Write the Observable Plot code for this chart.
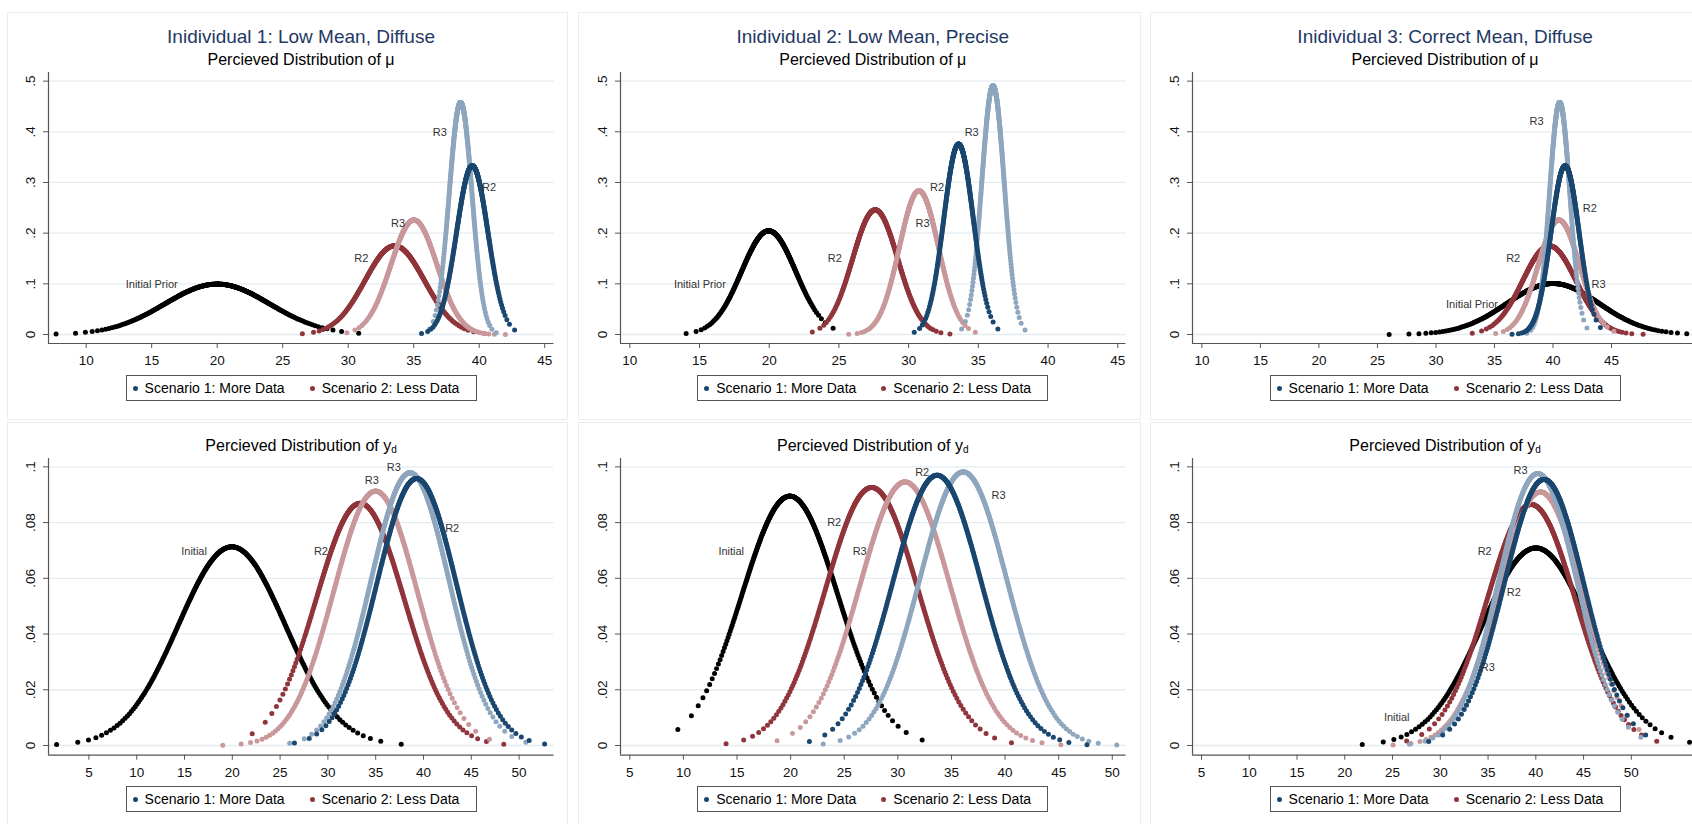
<!DOCTYPE html>
<html><head><meta charset="utf-8">
<script src="https://cdn.jsdelivr.net/npm/d3@7"></script>
<script src="https://cdn.jsdelivr.net/npm/@observablehq/plot@0.6"></script>
<style>
body{margin:0;background:#fff;width:1692px;height:824px;overflow:hidden;position:relative;font-family:"Liberation Sans",Arial,sans-serif;}
.box{position:absolute;border:1px solid #e9eef2;box-sizing:border-box;}
.title{position:absolute;font-size:19px;line-height:19px;color:#1f3864;white-space:nowrap;transform:translateX(-50%);}
.sub{position:absolute;font-size:16px;line-height:16px;color:#000;white-space:nowrap;transform:translateX(-50%);}
.sub sub{font-size:10px;vertical-align:-2px;line-height:0}
.legend{position:absolute;border:1px solid #555;box-sizing:border-box;height:26px;display:flex;align-items:center;font-size:14px;white-space:nowrap;color:#000;padding-left:6px;}
.dot{display:inline-block;width:5px;height:5px;border-radius:50%;margin-right:7px}
.panel{position:absolute}
</style></head><body>
<script>
// ---------- data ----------
// curve order in every panel: Initial, Scenario 2 R2, Scenario 2 R3, Scenario 1 R2, Scenario 1 R3
const curveKeys = ["Initial", "S2R2", "S2R3", "S1R2", "S1R3"];

const titles = ["Inidividual 1: Low Mean, Diffuse", "Inidividual 2: Low Mean, Precise", "Inidividual 3: Correct Mean, Diffuse"];

// Panel 1: Individual 1, distribution of mu
const p1Mean = [20, 33.55, 35.02, 39.47, 38.58];
const p1Peak = [0.0995, 0.175, 0.226, 0.333, 0.458];
const p1Min  = [7.7, 26.5, 29.9, 35.6, 36.2];
const p1Max  = [30.8, 40.4, 42.0, 42.7, 41.3];
const p1LabText = ["Initial Prior", "R2", "R3", "R2", "R3"];
const p1LabX = [15.0, 31.0, 33.8, 40.76, 37.0];
const p1LabY = [0.0995, 0.15, 0.22, 0.29, 0.399];

// Panel 2: Individual 2, distribution of mu
const p2Mean = [19.96, 27.6, 30.74, 33.58, 36.05];
const p2Peak = [0.2046, 0.246, 0.2836, 0.3757, 0.4907];
const p2Min  = [14.04, 23.09, 25.7, 30.4, 33.8];
const p2Max  = [24.58, 32.96, 34.78, 36.4, 38.35];
const p2LabText = ["Initial Prior", "R2", "R3", "R2", "R3"];
const p2LabX = [15.03, 24.71, 31.0, 32.04, 34.52];
const p2LabY = [0.0995, 0.15, 0.22, 0.29, 0.399];

// Panel 3: Individual 3, distribution of mu
const p3Mean = [40, 39.69, 40.5, 41.03, 40.57];
const p3Peak = [0.1006, 0.175, 0.226, 0.333, 0.458];
const p3Min  = [26.0, 33.1, 35.1, 36.5, 37.76];
const p3Max  = [53.0, 47.7, 45.2, 44.05, 42.9];
const p3LabText = ["Initial Prior", "R2", "R3", "R2", "R3"];
const p3LabX = [33.08, 36.6, 43.9, 43.15, 38.6];
const p3LabY = [0.06, 0.15, 0.0987, 0.249, 0.42];

// Panel 4: Individual 1, distribution of y_d
const p4Mean = [19.95, 33.38, 34.98, 39.28, 38.59];
const p4Peak = [0.0713, 0.0869, 0.0913, 0.0958, 0.0979];
const p4Min  = [1.62, 22.08, 19.0, 26.5, 26.0];
const p4Max  = [37.67, 48.4, 46.9, 52.67, 50.7];
const p4LabText = ["Initial", "R2", "R3", "R2", "R3"];
const p4LabX = [16.0, 29.27, 34.6, 43.0, 36.9];
const p4LabY = [0.0698, 0.0698, 0.095, 0.0779, 0.0998];

// Panel 5: Individual 2, distribution of y_d
const p5Mean = [19.93, 27.56, 30.67, 33.66, 36.1];
const p5Peak = [0.0895, 0.0926, 0.0946, 0.097, 0.0982];
const p5Min  = [9.48, 13.98, 18.73, 21.75, 23.04];
const p5Max  = [32.27, 40.6, 45.2, 47.64, 50.42];
const p5LabText = ["Initial", "R2", "R3", "R2", "R3"];
const p5LabX = [14.46, 24.06, 26.44, 32.27, 39.4];
const p5LabY = [0.0698, 0.0799, 0.0698, 0.098, 0.0896];

// Panel 6: Individual 3, distribution of y_d
const p6Mean = [40, 39.52, 40.49, 40.86, 40.2];
const p6Peak = [0.0709, 0.0865, 0.091, 0.0955, 0.0976];
const p6Min  = [21.83, 26.48, 25.06, 28.79, 26.78];
const p6Max  = [56.1, 52.66, 50.8, 51.5, 51.0];
const p6LabText = ["Initial", "R2", "R3", "R2", "R3"];
const p6LabX = [25.44, 34.65, 34.97, 37.7, 38.4];
const p6LabY = [0.0099, 0.0698, 0.0279, 0.0549, 0.0986];

// ticks
const xTicksTop = [10, 15, 20, 25, 30, 35, 40, 45];
const xTicksBottom = [5, 10, 15, 20, 25, 30, 35, 40, 45, 50];
const yTicksTop = [0, 0.1, 0.2, 0.3, 0.4, 0.5];
const yTickLabelsTop = ["0", ".1", ".2", ".3", ".4", ".5"];
const yTicksBottom = [0, 0.02, 0.04, 0.06, 0.08, 0.1];
const yTickLabelsBottom = ["0", ".02", ".04", ".06", ".08", ".1"];
const legendLabels = ["Scenario 1: More Data", "Scenario 2: Less Data"];

// ---------- styles ----------
const curveColors = ["#000000", "#90353b", "#c9989b", "#1a476f", "#8ea6be"];
const drawOrder = [0, 1, 2, 4, 3];
const FONT = '"Liberation Sans", Arial, sans-serif';

function qnorm(p) {
  const a=[-3.969683028665376e+01,2.209460984245205e+02,-2.759285104469687e+02,1.383577518672690e+02,-3.066479806614716e+01,2.506628277459239e+00];
  const b=[-5.447609879822406e+01,1.615858368580409e+02,-1.556989798598866e+02,6.680131188771972e+01,-1.328068155288572e+01];
  const c=[-7.784894002430293e-03,-3.223964580411365e-01,-2.400758277161838e+00,-2.549732539343734e+00,4.374664141464968e+00,2.938163982698783e+00];
  const d=[7.784695709041462e-03,3.224671290700398e-01,2.445134137142996e+00,3.754408661907416e+00];
  const pl=0.02425, ph=1-pl; let q,r;
  if(p<pl){q=Math.sqrt(-2*Math.log(p));return (((((c[0]*q+c[1])*q+c[2])*q+c[3])*q+c[4])*q+c[5])/((((d[0]*q+d[1])*q+d[2])*q+d[3])*q+1);}
  if(p>ph){q=Math.sqrt(-2*Math.log(1-p));return -(((((c[0]*q+c[1])*q+c[2])*q+c[3])*q+c[4])*q+c[5])/((((d[0]*q+d[1])*q+d[2])*q+d[3])*q+1);}
  q=p-0.5;r=q*q;return (((((a[0]*r+a[1])*r+a[2])*r+a[3])*r+a[4])*r+a[5])*q/(((((b[0]*r+b[1])*r+b[2])*r+b[3])*r+b[4])*r+1);
}

// density curve points: normal density with the read mean and peak, evaluated on quantile positions spanning the read min..max
function curvePoints(mean, peak, lo, hi) {
  const N = 320, s = 1 / (peak * Math.sqrt(2 * Math.PI));
  const zmax = qnorm(1 - 0.5 / N);
  const out = [];
  for (let i = 0; i < N; i++) {
    const z = qnorm((i + 0.5) / N);
    const x = z < 0 ? mean + z / zmax * (mean - lo) : mean + z / zmax * (hi - mean);
    out.push({x, y: peak * Math.exp(-0.5 * ((x - mean) / s) ** 2)});
  }
  return out;
}

const W = 505.5, ML = 48, MT = 10, MB = 34;
const colLeft = [48.3, 620, 1192.3];
const rowTop = [71.7, 458.3], rowH = [271, 296.7];

const panels = [
  {col:0,row:0,mean:p1Mean,peak:p1Peak,min:p1Min,max:p1Max,lt:p1LabText,lx:p1LabX,ly:p1LabY,xd:[7.122,45.71],xt:xTicksTop},
  {col:1,row:0,mean:p2Mean,peak:p2Peak,min:p2Min,max:p2Max,lt:p2LabText,lx:p2LabX,ly:p2LabY,xd:[9.333,45.59],xt:xTicksTop},
  {col:2,row:0,mean:p3Mean,peak:p3Peak,min:p3Min,max:p3Max,lt:p3LabText,lx:p3LabX,ly:p3LabY,xd:[9.197,52.39],xt:xTicksTop},
  {col:0,row:1,mean:p4Mean,peak:p4Peak,min:p4Min,max:p4Max,lt:p4LabText,lx:p4LabX,ly:p4LabY,xd:[0.774,53.65],xt:xTicksBottom},
  {col:1,row:1,mean:p5Mean,peak:p5Peak,min:p5Min,max:p5Max,lt:p5LabText,lx:p5LabX,ly:p5LabY,xd:[4.133,51.28],xt:xTicksBottom},
  {col:2,row:1,mean:p6Mean,peak:p6Peak,min:p6Min,max:p6Max,lt:p6LabText,lx:p6LabX,ly:p6LabY,xd:[4.058,56.98],xt:xTicksBottom}
];

function addDiv(cls, left, top, w, h, html) {
  const d = document.createElement("div");
  d.className = cls;
  d.style.left = left + "px"; d.style.top = top + "px";
  if (w != null) d.style.width = w + "px";
  if (h != null) d.style.height = h + "px";
  if (html != null) d.innerHTML = html;
  document.body.appendChild(d);
  return d;
}

// faint panel outlines
const boxX = [[6.7, 568.3], [578, 1140.7], [1150, 1712]];
const boxY = [[11.7, 420.3], [422.3, 831]];
for (const [y0, y1] of boxY) for (const [x0, x1] of boxX) addDiv("box", x0, y0, x1 - x0, y1 - y0);

panels.forEach(P => {
  const yd = P.row === 0 ? [-0.01776, 0.517] : [-0.00348, 0.1030];
  const yt = P.row === 0 ? yTicksTop : yTicksBottom;
  const ytl = P.row === 0 ? yTickLabelsTop : yTickLabelsBottom;
  const h = rowH[P.row];
  const marks = [Plot.gridY(yt, {stroke: "#e4ecf1", strokeOpacity: 1, strokeWidth: 1.3})];
  for (const k of drawOrder) {
    marks.push(Plot.dot(curvePoints(P.mean[k], P.peak[k], P.min[k], P.max[k]),
      {x: "x", y: "y", r: 2.5, fill: curveColors[k], stroke: null}));
  }
  const labs = P.lt.map((t, i) => ({t, x: P.lx[i], y: P.ly[i]}));
  marks.push(Plot.text(labs, {x: "x", y: "y", text: "t", fontSize: 11, fill: "#333", fontFamily: FONT}));
  marks.push(Plot.ruleX([P.xd[0]], {stroke: "#555", strokeWidth: 1.2}));
  marks.push(Plot.ruleY([yd[0]], {stroke: "#555", strokeWidth: 1.2}));
  marks.push(Plot.axisX({ticks: P.xt, tickSize: 5, tickPadding: 7, label: null, stroke: "#555", fill: "#111", fontSize: 13.5}));
  marks.push(Plot.axisY({ticks: yt, tickSize: 5, tickFormat: () => "", label: null, stroke: "#555"}));
  marks.push(Plot.text(yt, {x: () => P.xd[0], y: d => d, text: (d, i) => ytl[i], rotate: -90, dx: -18, fontSize: 13.5, fill: "#111"}));
  const chart = Plot.plot({
    width: ML + W, height: MT + h + MB,
    marginLeft: ML, marginRight: 0, marginTop: MT, marginBottom: MB,
    x: {domain: P.xd}, y: {domain: yd},
    style: {fontFamily: FONT, fontSize: "13.5px", background: "transparent", overflow: "visible"},
    marks
  });
  chart.style.position = "absolute";
  chart.style.left = (colLeft[P.col] - ML) + "px";
  chart.style.top = (rowTop[P.row] - MT) + "px";
  chart.style.maxWidth = "none";
  document.body.appendChild(chart);

  const cx = colLeft[P.col] + W / 2;
  if (P.row === 0) {
    addDiv("title", cx, 27.2, null, null, titles[P.col]);
    addDiv("sub", cx, 51.5, null, null, "Percieved Distribution of \u03bc");
  } else {
    addDiv("sub", cx, 438.2, null, null, "Percieved Distribution of y<sub>d</sub>");
  }
  const lg = addDiv("legend", cx - 175.5, P.row === 0 ? 375 : 786, 351, 26,
    `<span class="dot" style="background:${curveColors[3]}"></span><span>${legendLabels[0]}</span>` +
    `<span class="dot" style="background:${curveColors[1]};margin-left:25px"></span><span>${legendLabels[1]}</span>`);
});
</script>
</body></html>
